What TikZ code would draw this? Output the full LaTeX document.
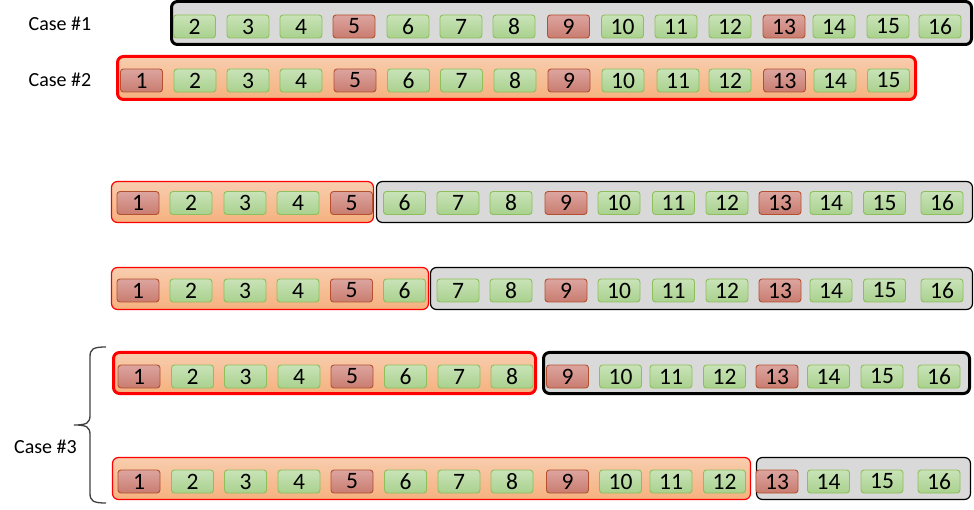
\documentclass[tikz,border=0pt]{standalone}
\usepackage{fontspec}
\setmainfont{Carlito}
\definecolor{gtop}{HTML}{C9E3B8}
\definecolor{gbot}{HTML}{A9D18E}
\definecolor{gline}{HTML}{8DC05A}
\definecolor{rtop}{HTML}{DCA59F}
\definecolor{rbot}{HTML}{C97C70}
\definecolor{rline}{HTML}{B5502F}
\definecolor{otop}{HTML}{F8CDAE}
\definecolor{obot}{HTML}{F5B17F}
\definecolor{grayfill}{HTML}{D9D9D9}
\definecolor{bracecol}{HTML}{404040}
\begin{document}
\begin{tikzpicture}[x=1pt,y=-1pt,
  cell/.style={rounded corners=3pt, minimum width=42pt, minimum height=23pt, inner sep=0pt,
    line width=0.9pt, font=\fontsize{23.5}{26}\selectfont},
  cellg/.style={cell, top color=gtop, bottom color=gbot, draw=gline},
  cellr/.style={cell, top color=rtop, bottom color=rbot, draw=rline},
  box/.style={rounded corners=6pt, inner sep=0pt},
  obox/.style={box, top color=otop, bottom color=obot, draw=red, line width=1.2pt},
  oboxthick/.style={obox, line width=3pt},
  gbox/.style={box, fill=grayfill, draw=black, line width=1.2pt},
  gboxthick/.style={gbox, line width=3pt},
  lbl/.style={font=\fontsize{20}{24}\selectfont, inner sep=0pt}
]
\useasboundingbox (0,0) rectangle (974,510);

% labels
\node[lbl] (case1) at (60,24) {Case \#1};
\node[lbl] (case2) at (60,80) {Case \#2};
\node[lbl] (case3) at (45.5,447) {Case \#3};

% Row 1
\node[gboxthick, minimum width=800pt, minimum height=43pt] (r1b) at (571.5,23) {};
\foreach \x/\n/\s in {194.5/2/g,248/3/g,301/4/g,354/5/r,408/6/g,461/7/g,514/8/g,568.5/9/r,622.5/10/g,676/11/g,730/12/g,784/13/r,834/14/g,888/15/g,940/16/g}
  \node[cell\s] (r1c\n) at (\x,26.5) {\n};

% Row 2
\node[oboxthick, minimum width=798pt, minimum height=43pt] (r2a) at (516.5,78) {};
\foreach \x/\n/\s in {141.5/1/r,195/2/g,248/3/g,301/4/g,355/5/r,408.5/6/g,461.5/7/g,515/8/g,569/9/r,623/10/g,678/11/g,730/12/g,784.5/13/r,835/14/g,888.5/15/g}
  \node[cell\s] (r2c\n) at (\x,80.5) {\n};

% Row 3
\node[obox, minimum width=262pt, minimum height=41pt] (r3a) at (242.5,202) {};
\node[gbox, minimum width=596pt, minimum height=41pt] (r3b) at (674.5,202) {};
\foreach \x/\n/\s in {138/1/r,191/2/g,245/3/g,298/4/g,351.5/5/r,404.5/6/g,458/7/g,511/8/g,566/9/r,619/10/g,673.5/11/g,727/12/g,780/13/r,831/14/g,884.5/15/g,942/16/g}
  \node[cell\s] (r3c\n) at (\x,203) {\n};

% Row 4
\node[obox, minimum width=317pt, minimum height=42pt] (r4a) at (270,288.5) {};
\node[gbox, minimum width=542pt, minimum height=42pt] (r4b) at (701.5,288.5) {};
\foreach \x/\n/\s in {138/1/r,191/2/g,245/3/g,298/4/g,351.5/5/r,404.5/6/g,458/7/g,511/8/g,566/9/r,619/10/g,673.5/11/g,727/12/g,780/13/r,831/14/g,884.5/15/g,942/16/g}
  \node[cell\s] (r4c\n) at (\x,290.5) {\n};

% Row 5
\node[oboxthick, minimum width=422pt, minimum height=41pt] (r5a) at (324.5,373) {};
\node[gboxthick, minimum width=426pt, minimum height=41pt] (r5b) at (756.5,373) {};
\foreach \x/\n/\s in {139/1/r,192.5/2/g,245.5/3/g,299/4/g,352/5/r,405.5/6/g,459/7/g,512/8/g,567.5/9/r,620.5/10/g,671/11/g,724.5/12/g,777/13/r,828.5/14/g,882/15/g,939/16/g}
  \node[cell\s] (r5c\n) at (\x,376.5) {\n};

% Row 6
\node[obox, minimum width=638pt, minimum height=42pt] (r6a) at (431.5,478.5) {};
\node[gbox, minimum width=214pt, minimum height=42pt] (r6b) at (863.5,478.5) {};
\foreach \x/\n/\s in {139/1/r,192.5/2/g,245.5/3/g,299/4/g,352/5/r,405.5/6/g,459/7/g,512/8/g,567.5/9/r,620.5/10/g,671/11/g,724.5/12/g,777/13/r,828.5/14/g,882/15/g,939/16/g}
  \node[cell\s] (r6c\n) at (\x,481.5) {\n};

% Brace
\draw[bracecol, line width=1.3pt]
  (106,347) .. controls (93,347) and (90,349) .. (90,357) -- (90,415)
  .. controls (90,423) and (87,425) .. (74,425)
  .. controls (87,425) and (90,427) .. (90,435) -- (90,493)
  .. controls (90,501) and (93,503) .. (106,503);
\end{tikzpicture}
\end{document}
